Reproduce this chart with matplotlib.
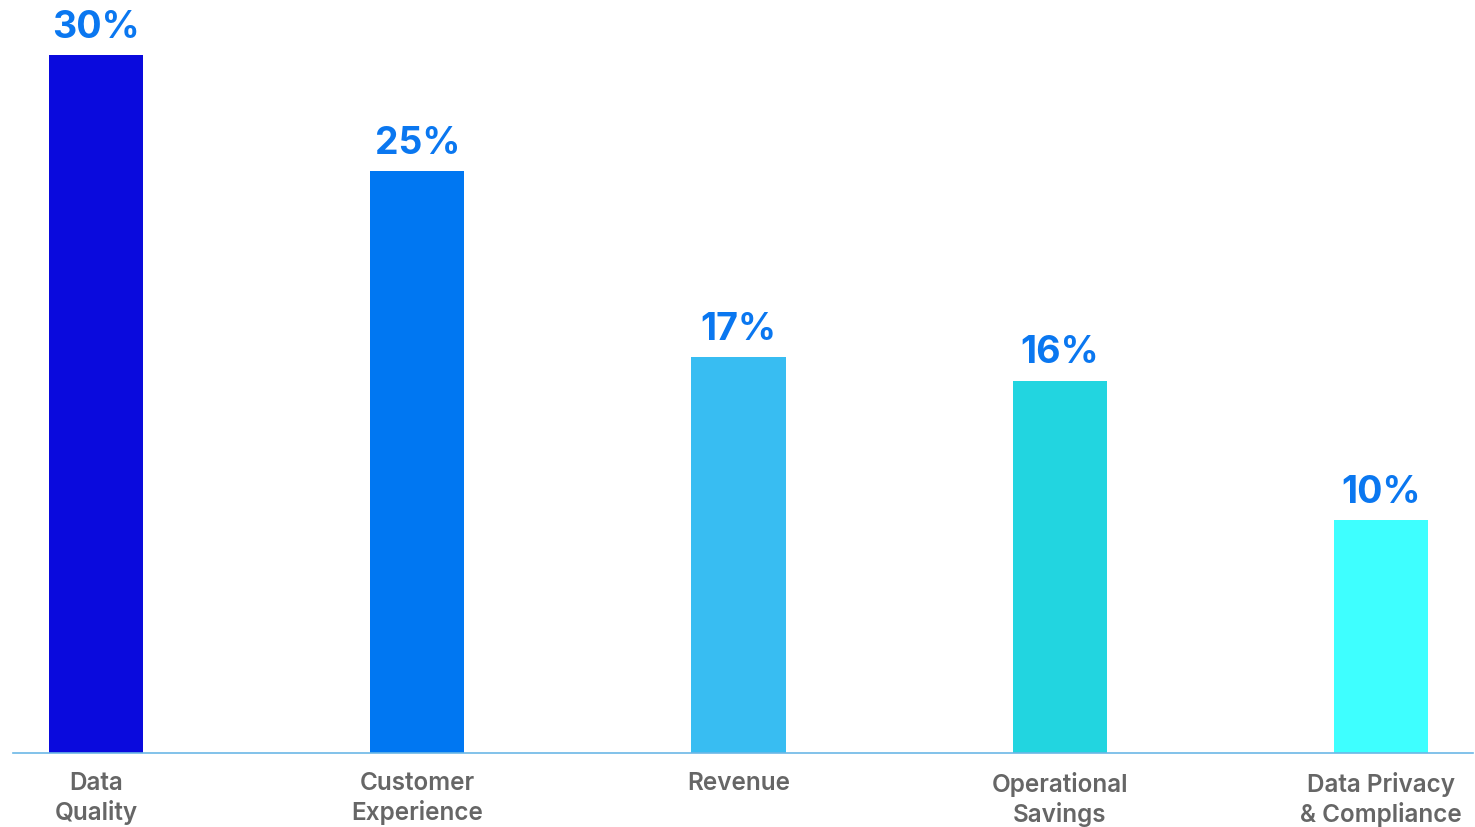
import matplotlib
matplotlib.use('Agg')
import matplotlib.pyplot as plt

# 数据
categories = ['Data\nQuality', 'Customer\nExperience', 'Revenue', 'Operational\nSavings', 'Data Privacy\n& Compliance']
values = [30, 25, 17, 16, 10]
colors = ['#0A0ADD', '#0077F2', '#38BDF2', '#22D5E0', '#3EFFFF']

plt.rcParams['font.family'] = ['Inter', 'DejaVu Sans']

fig = plt.figure(figsize=(14.75, 8.27), dpi=100)
ax = fig.add_axes([13 / 1475, 74 / 827, 1460 / 1475, 753 / 827])

x = range(len(categories))
bars = ax.bar(x, values, width=0.293, color=colors)

# 数值标签
for b, v in zip(bars, values):
    ax.text(b.get_x() + b.get_width() / 2, v + 0.4, f'{v}%', ha='center', va='bottom',
            fontsize=27, fontweight='bold', color='#0A77F0')

ax.set_xlim(-0.258, 4.286)
ax.set_ylim(0, 32.36)
ax.set_xticks(list(x))
ax.set_xticklabels(categories, fontsize=17.5, fontweight='semibold', color='#666666', linespacing=1.25)
ax.tick_params(axis='x', length=0, pad=14)
ax.set_yticks([])
for s in ['top', 'right', 'left']:
    ax.spines[s].set_visible(False)
ax.spines['bottom'].set_color('#6CB8E6')
ax.spines['bottom'].set_linewidth(1.2)

plt.savefig('out.png', dpi=100)
